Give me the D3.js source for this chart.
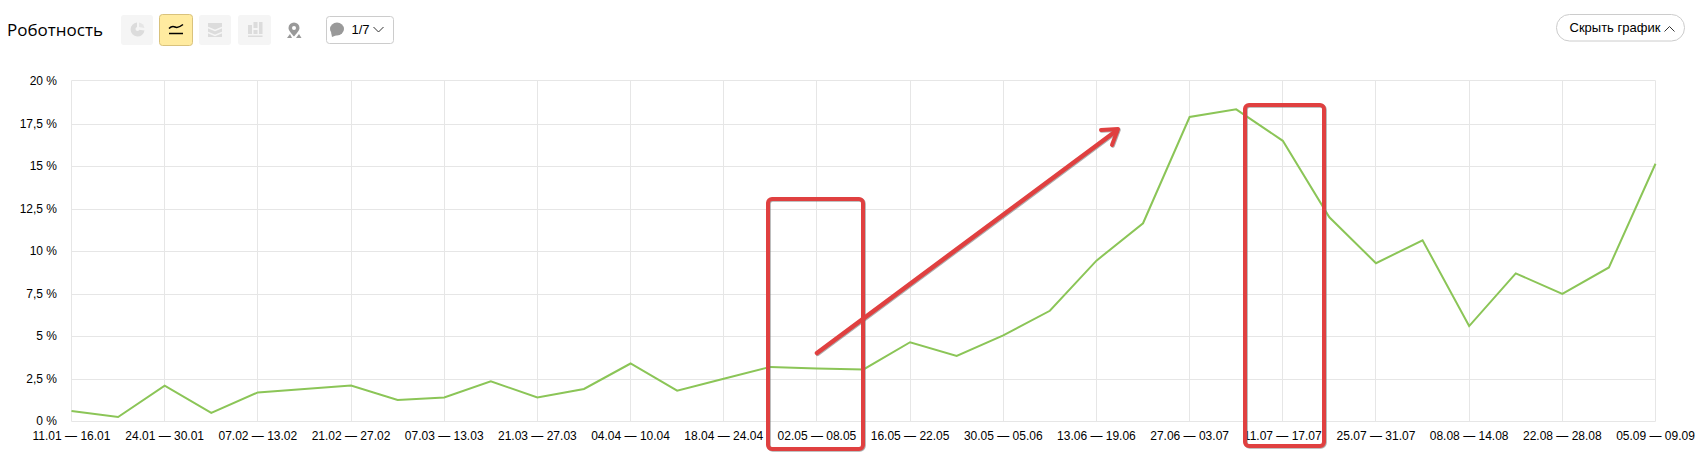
<!DOCTYPE html>
<html lang="ru"><head><meta charset="utf-8">
<style>html,body{margin:0;padding:0;background:#fff}svg{display:block}text{font-family:"Liberation Sans",Arial,sans-serif}</style>
<script src="https://cdn.jsdelivr.net/npm/d3@7/dist/d3.min.js"></script></head><body>
<svg id="c" width="1700" height="460"></svg>
<script>
const title = "Роботность";
const hideLabel = "Скрыть график";
const noteLabel = "1/7";
const xTickLabels = ["11.01 — 16.01","24.01 — 30.01","07.02 — 13.02","21.02 — 27.02","07.03 — 13.03","21.03 — 27.03","04.04 — 10.04","18.04 — 24.04","02.05 — 08.05","16.05 — 22.05","30.05 — 05.06","13.06 — 19.06","27.06 — 03.07","11.07 — 17.07","25.07 — 31.07","08.08 — 14.08","22.08 — 28.08","05.09 — 09.09"];
const yTickValues = [0,2.5,5,7.5,10,12.5,15,17.5,20];
const robotShare = [0.6,0.25,2.1,0.5,1.7,1.9,2.1,1.25,1.4,2.35,1.4,1.9,3.4,1.8,2.5,3.2,3.1,3.05,4.65,3.85,5.05,6.5,9.45,11.65,17.9,18.35,16.5,12.0,9.3,10.65,5.6,8.7,7.5,9.05,15.15];

const svg = d3.select("#c");
const plotTop = 80.5, plotBottom = 421.5, plotLeft = 71.5, plotRight = 1655.5;
const x = d3.scaleLinear().domain([0, robotShare.length-1]).range([plotLeft,plotRight]);
const y = d3.scaleLinear().domain([0,20]).range([421.3,81.3]);
const grid = "#e6e6e6";
const snap = v => Math.round(v)+.5;

// gridlines
svg.append("g").selectAll("line").data(yTickValues.slice(0,-1)).join("line")
  .attr("x1",plotLeft).attr("x2",plotRight).attr("y1",d=>snap(y(d))).attr("y2",d=>snap(y(d))).attr("stroke",grid);
svg.append("line").attr("x1",plotLeft).attr("x2",plotRight).attr("y1",plotTop).attr("y2",plotTop).attr("stroke",grid);
const xTickIdx = xTickLabels.map((_,i)=>i*2);
svg.append("g").selectAll("line").data(xTickIdx).join("line")
  .attr("x1",d=>Math.round(x(d)-.5)+.5).attr("x2",d=>Math.round(x(d)-.5)+.5).attr("y1",plotTop).attr("y2",plotBottom).attr("stroke",grid);

// tick labels
svg.append("g").selectAll("text").data(yTickValues).join("text")
  .attr("x",57).attr("y",d=>y(d)+.7).attr("text-anchor","end").attr("dominant-baseline","middle")
  .attr("font-size",12).attr("fill","#000").text(d=>String(d).replace(".",",")+" %");
svg.append("g").selectAll("text").data(xTickLabels).join("text")
  .attr("x",(d,i)=>x(i*2)).attr("y",440).attr("text-anchor","middle")
  .attr("font-size",12).attr("fill","#000").text(d=>d);

// series
svg.append("path").datum(robotShare).attr("fill","none").attr("stroke","#8bc557").attr("stroke-width",2)
  .attr("d",d3.line().x((d,i)=>x(i)).y(d=>y(d)));

// annotations (hand-drawn overlay on the screenshot)
const red="#e04040";
const shadow=svg.append("g").attr("stroke","#777").attr("stroke-opacity",.6).attr("fill","none").attr("transform","translate(.8,.8)").attr("stroke-width",4);
const anno=svg.append("g").attr("stroke",red).attr("fill","none").attr("stroke-width",4);
[[768,199,95,250],[1245,105,79,341]].forEach(r=>{
  [shadow,anno].forEach(g=>g.append("rect").attr("x",r[0]).attr("y",r[1]).attr("width",r[2]).attr("height",r[3]).attr("rx",4));
});
const shaft="M817,353L1116,131", head="M1101,130L1118,129L1112,145";
[shadow,anno].forEach(g=>{
  g.append("path").attr("d",shaft).attr("stroke-width",4.5).attr("stroke-linecap","round");
  g.append("path").attr("d",head).attr("stroke-width",4).attr("stroke-linecap","round").attr("stroke-linejoin","round");
});

// header
svg.append("text").attr("x",7).attr("y",36).attr("font-size",17).attr("fill","#000").style("font-family","Open Sans, sans-serif").text(title);
const btn=svg.append("g");
[[121,15,32,30],[199,15,32,30],[238,15,33,30]].forEach(b=>{
  btn.append("rect").attr("x",b[0]).attr("y",b[1]).attr("width",b[2]).attr("height",b[3]).attr("rx",3).attr("fill","#f5f5f5");
});
btn.append("rect").attr("x",159.5).attr("y",14.5).attr("width",33).attr("height",31).attr("rx",3).attr("fill","#ffeba0").attr("stroke","#d9c27c");
// pie icon
svg.append("path").attr("d","M137,22.5a7,7 0 1 0 7.5,8l-7.5,-1z").attr("fill","#dcdcdc");
svg.append("path").attr("d","M139,22.5a7,7 0 0 1 5.5,5.5l-5.5,-1z").attr("fill","#e6e6e6");
svg.append("circle").attr("cx",137.5).attr("cy",29).attr("r",2).attr("fill","#f5f5f5");
// line icon
svg.append("path").attr("d","M169,28.5q3,-3 6,-1.5t8,-2.5").attr("stroke","#000").attr("stroke-width",1.5).attr("fill","none");
svg.append("path").attr("d","M169,33.5H183").attr("stroke","#000").attr("stroke-width",1.5);
// stacked icon
svg.append("path").attr("d","M208,23H222V37H208Z").attr("fill","#dcdcdc");
svg.append("path").attr("d","M208,27.5l7,3l7,-3M208,32.5l7,3l7,-3").attr("stroke","#f5f5f5").attr("stroke-width",1.5).attr("fill","none");
// bars icon
svg.append("path").attr("d","M248,25h4v9h-4zM253.5,22h4v6h-4zM253.5,30h4v4h-4zM259,22h3.5v12h-3.5zM248,35.5h14.5v1.5h-14.5z").attr("fill","#dcdcdc");
// pin icon
svg.append("path").attr("d","M294,22.5a5.5,5.5 0 0 1 5.5,5.5c0,2.5 -3,5.5 -5.5,8.5c-2.5,-3 -5.5,-6 -5.5,-8.5a5.5,5.5 0 0 1 5.5,-5.5z").attr("fill","#999");
svg.append("circle").attr("cx",294).attr("cy",28).attr("r",2).attr("fill","#fff");
svg.append("path").attr("d","M287,38l3,-4l2,4zM296,38l3,-4l2.5,4z").attr("fill","#999");
// comment selector
svg.append("rect").attr("x",326.5).attr("y",16.5).attr("width",67).attr("height",27).attr("rx",3).attr("fill","#fff").attr("stroke","#ccc");
svg.append("ellipse").attr("cx",337).attr("cy",29).attr("rx",7).attr("ry",6.5).attr("fill","#999");
svg.append("path").attr("d","M331,32l1,5l5,-2z").attr("fill","#999");
svg.append("text").attr("x",351.5).attr("y",34).attr("font-size",13).attr("fill","#000").text(noteLabel);
svg.append("path").attr("d","M373.5,27l5,5l5,-5").attr("stroke","#333").attr("fill","none");
// hide button
svg.append("rect").attr("x",1556.5).attr("y",14.5).attr("width",128).attr("height",26.5).attr("rx",13).attr("fill","#fff").attr("stroke","#ccc");
svg.append("text").attr("x",1569.5).attr("y",32).attr("font-size",13).attr("fill","#000").text(hideLabel);
svg.append("path").attr("d","M1664.5,31.5l5,-5l5,5").attr("stroke","#333").attr("fill","none");
</script></body></html>
